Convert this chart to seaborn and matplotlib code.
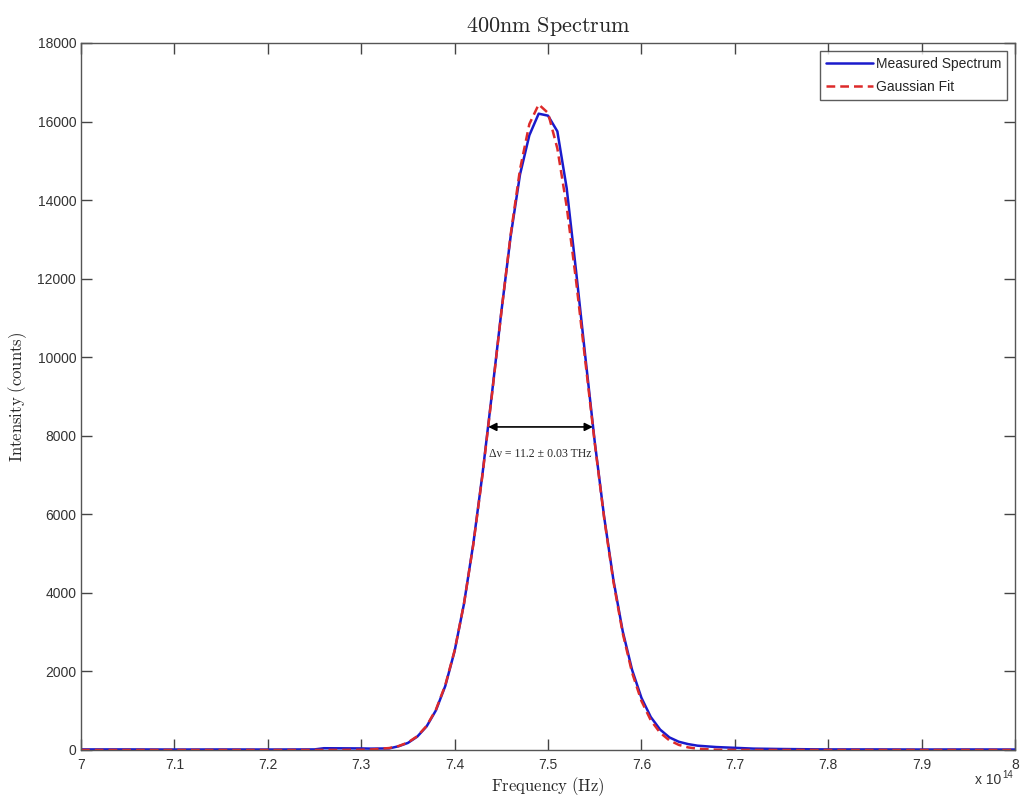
import numpy as np
import pandas as pd
import matplotlib
matplotlib.use("Agg")
import matplotlib.pyplot as plt
import seaborn as sns

# Measured spectrum (frequency in units of 1e14 Hz, intensity in counts)
freq = [7.00, 7.05, 7.10, 7.15, 7.20, 7.25, 7.26, 7.30, 7.31, 7.33,
        7.34, 7.35, 7.36, 7.37, 7.38, 7.39, 7.40, 7.41, 7.42, 7.43,
        7.44, 7.45, 7.46, 7.47, 7.48, 7.49, 7.50, 7.51, 7.52, 7.53,
        7.54, 7.55, 7.56, 7.57, 7.58, 7.59, 7.60, 7.61, 7.62, 7.63,
        7.64, 7.65, 7.66, 7.68, 7.70, 7.72, 7.75, 7.78, 7.80, 7.85,
        7.90, 7.95, 8.00]
intensity = [15, 15, 12, 14, 12, 15, 45, 40, 35, 40,
             95, 180, 340, 600, 1010, 1630, 2520, 3720, 5250, 7060,
             9080, 11150, 13080, 14650, 15650, 16200, 16150, 15750, 14300, 12200,
             10000, 7850, 5950, 4330, 3020, 2040, 1330, 840, 520, 320,
             210, 150, 110, 75, 55, 35, 25, 18, 15, 15,
             12, 14, 12]

# Gaussian fit parameters
fit_amplitude = 16450.0      # counts
fit_centre = 7.492           # 1e14 Hz
fit_fwhm_thz = 11.2          # THz
fit_fwhm_err_thz = 0.03      # THz

x_ticks = [7.0, 7.1, 7.2, 7.3, 7.4, 7.5, 7.6, 7.7, 7.8, 7.9, 8.0]
x_tick_labels = ["7", "7.1", "7.2", "7.3", "7.4", "7.5", "7.6", "7.7", "7.8", "7.9", "8"]
y_ticks = [0, 2000, 4000, 6000, 8000, 10000, 12000, 14000, 16000, 18000]

sns.set_style("ticks")
plt.rcParams["font.family"] = ["Liberation Sans", "DejaVu Sans"]
plt.rcParams["mathtext.fontset"] = "cm"

fwhm = fit_fwhm_thz / 100.0  # THz -> 1e14 Hz
sigma = fwhm / (2.0 * np.sqrt(2.0 * np.log(2.0)))
f = np.asarray(freq)
fit_vals = fit_amplitude * np.exp(-0.5 * ((f - fit_centre) / sigma) ** 2)

df = pd.DataFrame({"freq": freq, "Measured Spectrum": intensity, "Gaussian Fit": fit_vals})

fig = plt.figure(figsize=(10.23, 7.96), dpi=100)
ax = fig.add_axes([0.0792, 0.0578, 0.9130, 0.8882])

sns.lineplot(data=df, x="freq", y="Measured Spectrum", ax=ax, color="#1a1acc",
             lw=1.8, label="Measured Spectrum")
sns.lineplot(data=df, x="freq", y="Gaussian Fit", ax=ax, color="#dd2a2a",
             lw=1.8, label="Gaussian Fit", dashes=False)
ax.lines[1].set_dashes((3.5, 2))

ax.set_xlim(7.0, 8.0)
ax.set_ylim(0, 18000)
ax.set_xticks(x_ticks)
ax.set_xticklabels(x_tick_labels)
ax.set_yticks(y_ticks)
ax.set_yticklabels([str(v) for v in y_ticks])

ax.tick_params(direction="in", length=8, width=1, colors="#444444",
               labelcolor="#333333", labelsize=10, top=True, right=True)
ax.tick_params(axis="x", pad=6)
for sp in ax.spines.values():
    sp.set_visible(True)
    sp.set_color("#555555")
    sp.set_linewidth(1.0)

ax.set_title(r"$\mathrm{400nm\ Spectrum}$", fontsize=16, pad=8)
ax.set_xlabel(r"$\mathrm{Frequency\ (Hz)}$", fontsize=12, labelpad=2)
ax.set_ylabel(r"$\mathrm{Intensity\ (counts)}$", fontsize=12, labelpad=6)

# Exponent of the frequency axis
ax.text(0.985, -0.043, "x 10", transform=ax.transAxes, ha="right", va="center",
        fontsize=10, color="#333333")
ax.text(0.986, -0.036, "14", transform=ax.transAxes, ha="left", va="center",
        fontsize=7, color="#333333")

# FWHM marker
half = fit_amplitude / 2.0
left = fit_centre - fwhm / 2.0
right = fit_centre + fwhm / 2.0
ax.annotate("", xy=(right, half), xytext=(left, half),
            arrowprops=dict(arrowstyle="<|-|>", color="black", lw=1.2,
                            mutation_scale=12, shrinkA=0, shrinkB=0))
ax.text(fit_centre, half - 680,
        "\u0394\u03bd = %.1f \u00b1 %.2f THz" % (fit_fwhm_thz, fit_fwhm_err_thz),
        ha="center", va="center", fontsize=8.5,
        family=["Liberation Serif", "DejaVu Serif"])

leg = ax.legend(loc="upper right", frameon=True, fancybox=False, fontsize=10,
                handlelength=3.4, handletextpad=0.2, borderpad=0.45,
                labelspacing=0.65, borderaxespad=0.55)
leg.get_frame().set_edgecolor("#333333")
leg.get_frame().set_linewidth(1.0)

fig.savefig("out.png", dpi=100)
